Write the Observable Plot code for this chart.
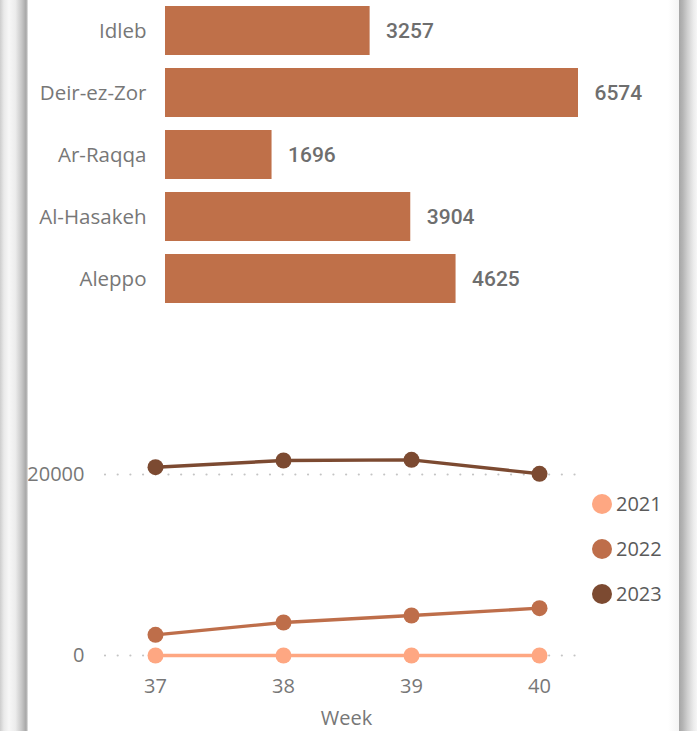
<!DOCTYPE html>
<html><head><meta charset="utf-8">
<script src="https://cdn.jsdelivr.net/npm/d3@7"></script>
<script src="https://cdn.jsdelivr.net/npm/@observablehq/plot@0.6"></script>
<style>
html,body{margin:0;padding:0;background:#fff;}
#wrap{position:relative;width:697px;height:731px;overflow:hidden;background:#fff;font-family:"Open Sans",sans-serif;}
#shadowL{position:absolute;left:0;top:0;width:28px;height:731px;background:linear-gradient(to right,#cdcdcd 0%,#e9e9e9 14%,#f7f7f7 32%,#ececec 55%,#c6c6c6 78%,#a9a9a9 92%,#b9b9b9 96%,#f0f0f0 100%);}
#shadowR{position:absolute;left:679px;top:0;width:18px;height:731px;background:linear-gradient(to right,#a6a6a6 0%,#b4b4b4 20%,#d2d2d2 50%,#ebebeb 80%,#f6f6f6 100%);}
#shadowR2{position:absolute;left:668px;top:0;width:11px;height:731px;background:linear-gradient(to right,#ffffff 0%,#f4f4f4 100%);}
#bar{position:absolute;left:0;top:0;}
#line{position:absolute;left:0;top:330px;}
#legend{position:absolute;left:592px;top:481px;}
.li{display:flex;align-items:center;height:45px;}
.sw{width:20px;height:20px;border-radius:50%;margin-right:4px;}
.lt{font-family:"Open Sans",sans-serif;font-size:20px;color:#5a5a5a;line-height:20px;}
</style></head>
<body>
<div id="wrap">
  <div id="bar"></div>
  <div id="line"></div>
  <div id="legend"></div>
  <div id="shadowL"></div>
  <div id="shadowR2"></div>
  <div id="shadowR"></div>
</div>
<script>
// ---- Bar chart data ----
const regions = ["Idleb", "Deir-ez-Zor", "Ar-Raqqa", "Al-Hasakeh", "Aleppo"];
const regionValues = [3257, 6574, 1696, 3904, 4625];
const barColor = "#BF7049";

// ---- Line chart data ----
const weeks = [37, 38, 39, 40];
const years = ["2021", "2022", "2023"];
const values2021 = [0, 0, 0, 0];
const values2022 = [2284, 3646, 4420, 5230];
const values2023 = [20807, 21547, 21620, 20077];
const yearColors = ["#FEA782", "#BE6E4A", "#7C4A31"];
const yTicks = [0, 20000];

const barData = regions.map((r, i) => ({region: r, value: regionValues[i]}));

const bar = Plot.plot({
  width: 697,
  height: 330,
  marginLeft: 165,
  marginRight: 119,
  marginTop: 5,
  marginBottom: 26.4,
  style: {color: "#777", fontFamily: "Open Sans, sans-serif", background: "transparent"},
  x: {domain: [0, d3.max(regionValues)], axis: null},
  y: {domain: regions, paddingInner: 0.215, paddingOuter: 0},
  marks: [
    Plot.barX(barData, {x: "value", y: "region", fill: barColor}),
    Plot.text(barData, {x: "value", y: "region", text: d => String(d.value), dx: 16, textAnchor: "start",
      fontFamily: "Roboto, sans-serif", fontWeight: 500, fontSize: 21, fill: "#6e6e6e"}),
    Plot.axisY({tickSize: 0, tickPadding: 19, fontSize: 20.5, label: null, fill: "#777"})
  ]
});
document.getElementById("bar").appendChild(bar);

const series = [values2021, values2022, values2023];
const rows = [];
years.forEach((y, k) => weeks.forEach((w, i) => rows.push({year: y, week: w, value: series[k][i]})));

const line = Plot.plot({
  width: 697,
  height: 401,
  marginLeft: 105,
  marginRight: 110,
  marginTop: 100,
  marginBottom: 76,
  style: {color: "#777", fontFamily: "Open Sans, sans-serif", background: "transparent"},
  x: {domain: [37, 40], insetLeft: 50, insetRight: 48},
  y: {domain: [0, 20000], range: [325, 144]},
  color: {domain: years, range: yearColors},
  marks: [
    Plot.ruleY(yTicks, {stroke: "#c4c4c4", strokeWidth: 2.2, strokeDasharray: "0.01,12.68", strokeLinecap: "round"}),
    Plot.axisY(yTicks, {tickSize: 0, tickPadding: 21, fontSize: 20, tickFormat: "d", label: null, fill: "#777"}),
    Plot.axisX(weeks, {tickSize: 0, tickPadding: 23, fontSize: 20, tickFormat: "d", label: null, fill: "#777"}),
    Plot.text(["Week"], {frameAnchor: "bottom", dy: 69, text: d => d, fontSize: 20, fill: "#777"}),
    Plot.line(rows, {x: "week", y: "value", z: "year", stroke: "year", strokeWidth: 3.4}),
    Plot.dot(rows, {x: "week", y: "value", fill: "year", r: 8})
  ]
});
document.getElementById("line").appendChild(line);

const legend = document.getElementById("legend");
years.forEach((y, k) => {
  const item = document.createElement("div");
  item.className = "li";
  const sw = document.createElement("div");
  sw.className = "sw";
  sw.style.background = yearColors[k];
  const t = document.createElement("span");
  t.className = "lt";
  t.textContent = y;
  item.appendChild(sw);
  item.appendChild(t);
  legend.appendChild(item);
});
</script>
</body></html>
